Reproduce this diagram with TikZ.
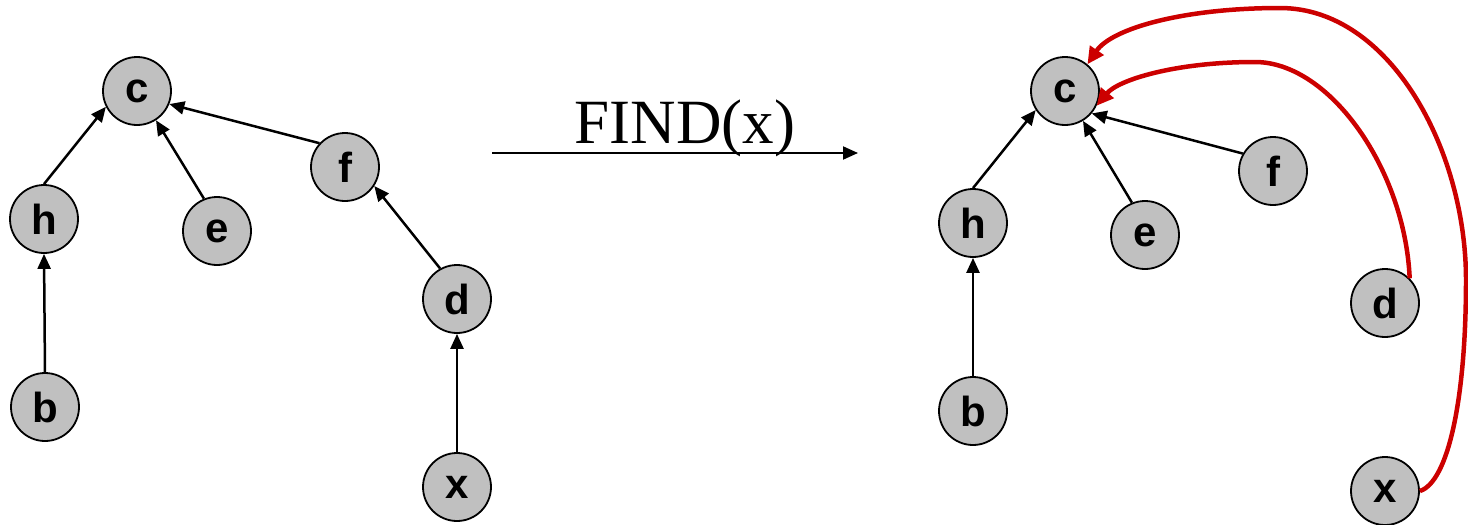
\documentclass[tikz,border=0pt]{standalone}
\usepackage{fontspec}
\setmainfont{Liberation Serif}
\newfontfamily\labfont{Liberation Sans}
\usetikzlibrary{arrows.meta}
\definecolor{nodegray}{RGB}{192,192,192}
\definecolor{findred}{RGB}{204,0,0}
\begin{document}
\begin{tikzpicture}[x=1pt,y=-1pt,
  vert/.style={circle,draw=black,line width=1.8pt,fill=nodegray,minimum size=68pt,inner sep=0pt,
    font=\labfont\bfseries\fontsize{42}{42}\selectfont},
  edge/.style={line width=2.5pt,-{Triangle[length=15pt,width=13pt]}},
  redge/.style={draw=findred,line width=4.5pt,-{Triangle[length=17pt,width=16pt]}},
  findlabel/.style={font=\fontsize{63}{63}\selectfont,inner sep=0pt,anchor=base}]
\useasboundingbox (0,0) rectangle (1468,525);
% left tree
\node[vert] (cl) at (137,91) {c};
\node[vert] (fl) at (345,167) {f};
\node[vert] (hl) at (44,219) {h};
\node[vert] (el) at (217,231) {e};
\node[vert] (dl) at (457,299) {d};
\node[vert] (bl) at (45,407) {b};
\node[vert] (xl) at (457,487) {x};
\draw[edge] (hl.north) -- (cl.207);
\draw[edge] (el.112) -- (cl.-57);
\draw[edge] (fl.137) -- (cl.-22);
\draw[edge] (bl.north) -- (hl.south);
\draw[edge] (dl.119) -- (fl.-33);
\draw[edge] (xl.north) -- (dl.south);
% FIND arrow
\coordinate (fa) at (492,153);
\coordinate (fb) at (858,153);
\draw[edge,line width=2pt] (fa) -- (fb);
\node[findlabel] (find) at (685,143) {FIND(x)};
% right tree
\node[vert] (cr) at (1065,91) {c};
\node[vert] (fr) at (1273,171) {f};
\node[vert] (hr) at (973,223) {h};
\node[vert] (er) at (1145,235) {e};
\node[vert] (dr) at (1385,303) {d};
\node[vert] (br) at (973,411) {b};
\node[vert] (xr) at (1385,491) {x};
\draw[edge] (hr.north) -- (cr.213);
\draw[edge] (er.112) -- (cr.-59);
\draw[edge] (fr.150) -- (cr.-40);
\draw[edge] (br.north) -- (hr.south);
\draw[redge] (dr.45) .. controls (1405,170) and (1330,62) .. (1255,62)
  .. controls (1175,62) and (1118,80) .. (cr.-25);
\draw[redge] (xr.east) .. controls (1448,482) and (1466,400) .. (1466,280)
  .. controls (1466,150) and (1390,8) .. (1280,8)
  .. controls (1185,8) and (1112,28) .. (cr.50);
\end{tikzpicture}
\end{document}
